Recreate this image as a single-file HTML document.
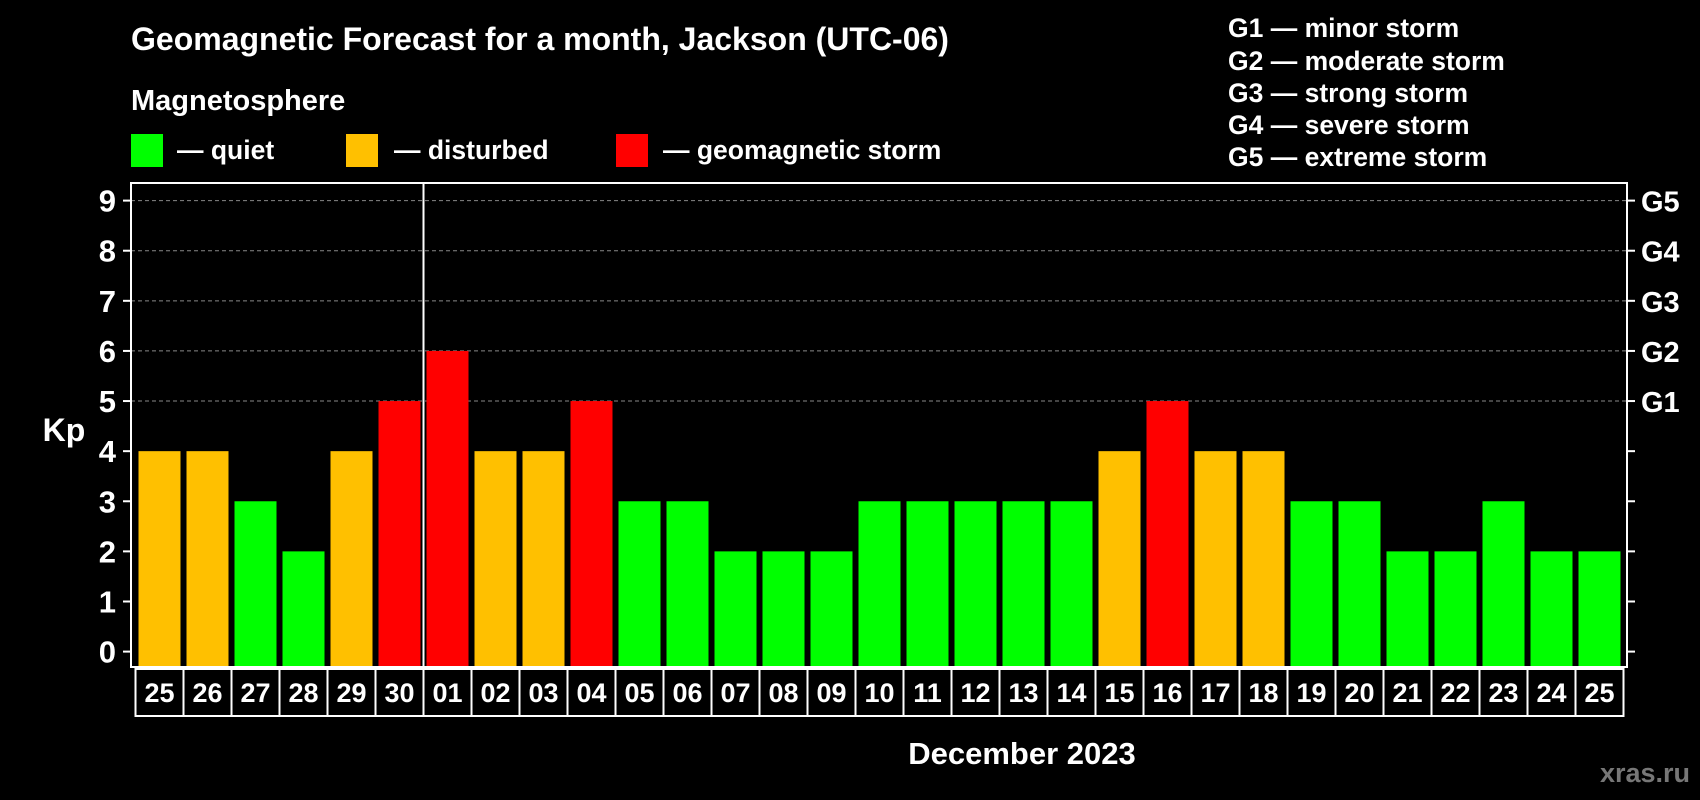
<!DOCTYPE html>
<html><head><meta charset="utf-8"><style>
html,body{margin:0;padding:0;background:#000;}
svg{display:block;font-family:"Liberation Sans",Arial,sans-serif;font-weight:bold;}
</style></head><body>
<svg id="chart" width="1700" height="800" viewBox="0 0 1700 800" xmlns="http://www.w3.org/2000/svg">
<rect width="1700" height="800" fill="#000"/>
<text x="131" y="50" fill="#fff" font-size="32">Geomagnetic Forecast for a month, Jackson (UTC-06)</text>
<text x="131" y="110" fill="#fff" font-size="29">Magnetosphere</text>
<g><rect x="131" y="134" width="32" height="33" fill="#00ff00"/><text x="177" y="159" fill="#fff" font-size="26.5">— quiet</text></g>
<g><rect x="346" y="134" width="32" height="33" fill="#ffc000"/><text x="394" y="159" fill="#fff" font-size="26.5">— disturbed</text></g>
<g><rect x="616" y="134" width="32" height="33" fill="#ff0000"/><text x="663" y="159" fill="#fff" font-size="26.5">— geomagnetic storm</text></g>
<g font-size="26.5" fill="#fff">
<text x="1228" y="37">G1 — minor storm</text>
<text x="1228" y="70">G2 — moderate storm</text>
<text x="1228" y="102">G3 — strong storm</text>
<text x="1228" y="134">G4 — severe storm</text>
<text x="1228" y="166">G5 — extreme storm</text>
</g>
<g id="grid"></g>
<g id="bars"></g>
<g id="axes"></g>
<text x="64" y="441" fill="#fff" font-size="32" text-anchor="middle">Kp</text>
<text x="1022" y="764" fill="#fff" font-size="31" text-anchor="middle">December 2023</text>
<text x="1690" y="782" fill="#777" font-size="27" text-anchor="end">xras.ru</text>
</svg>
<script>
const days = ["25","26","27","28","29","30","01","02","03","04","05","06","07","08","09","10","11","12","13","14","15","16","17","18","19","20","21","22","23","24","25"];
const kp = [4,4,3,2,4,5,6,4,4,5,3,3,2,2,2,3,3,3,3,3,4,5,4,4,3,3,2,2,3,2,2];
const yTicks = [0,1,2,3,4,5,6,7,8,9];
const gLabels = ["","","","","","G1","G2","G3","G4","G5"];

const NS="http://www.w3.org/2000/svg";
const L=131,R=1627,T=183,B=667,ZERO=651.6,UNIT=(651.6-200.6)/9,PITCH=48,X0=135.5;
const y=v=>ZERO-v*UNIT;
const x=i=>X0+i*PITCH;
function mk(tag,attrs,parent,txt){const e=document.createElementNS(NS,tag);for(const k in attrs)e.setAttribute(k,attrs[k]);if(txt!==undefined)e.textContent=txt;parent.appendChild(e);return e;}
const grid=document.getElementById('grid'),bars=document.getElementById('bars'),axes=document.getElementById('axes');
yTicks.forEach((t,i)=>{
  if(t>=5){const g=mk('line',{x1:L,x2:R,y1:y(t),y2:y(t),stroke:'#888','stroke-width':1,'stroke-dasharray':'4,3'},grid);
  
  }
  const tl=mk('line',{x1:L-8,x2:L,y1:y(t),y2:y(t),stroke:'#fff','stroke-width':2},axes);
  
  
  const tr=mk('line',{x1:R,x2:R+8,y1:y(t),y2:y(t),stroke:'#fff','stroke-width':2},axes);
  
  
  const lb=mk('text',{x:116,y:y(t)+11,fill:'#fff','font-size':31,'text-anchor':'end'},axes,String(t));
  
  
  if(gLabels[i]){const gl=mk('text',{x:1641,y:y(t)+11,fill:'#fff','font-size':29},axes,gLabels[i]);
  
  }
});
kp.forEach((v,i)=>{
  const c=v>=5?'#ff0000':(v>=4?'#ffc000':'#00ff00');
  const r=mk('rect',{x:x(i)+3,y:y(v),width:42,height:B-1-y(v),fill:c},bars);
  
  
  const cell=mk('rect',{x:x(i),y:B+2,width:PITCH,height:47,fill:'none',stroke:'#fff','stroke-width':2},axes);
  
  
  const t=mk('text',{x:x(i)+PITCH/2,y:B+35,fill:'#fff','font-size':27,'text-anchor':'middle'},axes,days[i]);
  
  
});
const frame=mk('rect',{x:L,y:T,width:R-L,height:B-T,fill:'none',stroke:'#fff','stroke-width':2},axes);


const mi=days.indexOf("01");
const sep=mk('line',{x1:x(mi),x2:x(mi),y1:T,y2:B+49,stroke:'#fff','stroke-width':2},axes);


</script>
</body></html>
